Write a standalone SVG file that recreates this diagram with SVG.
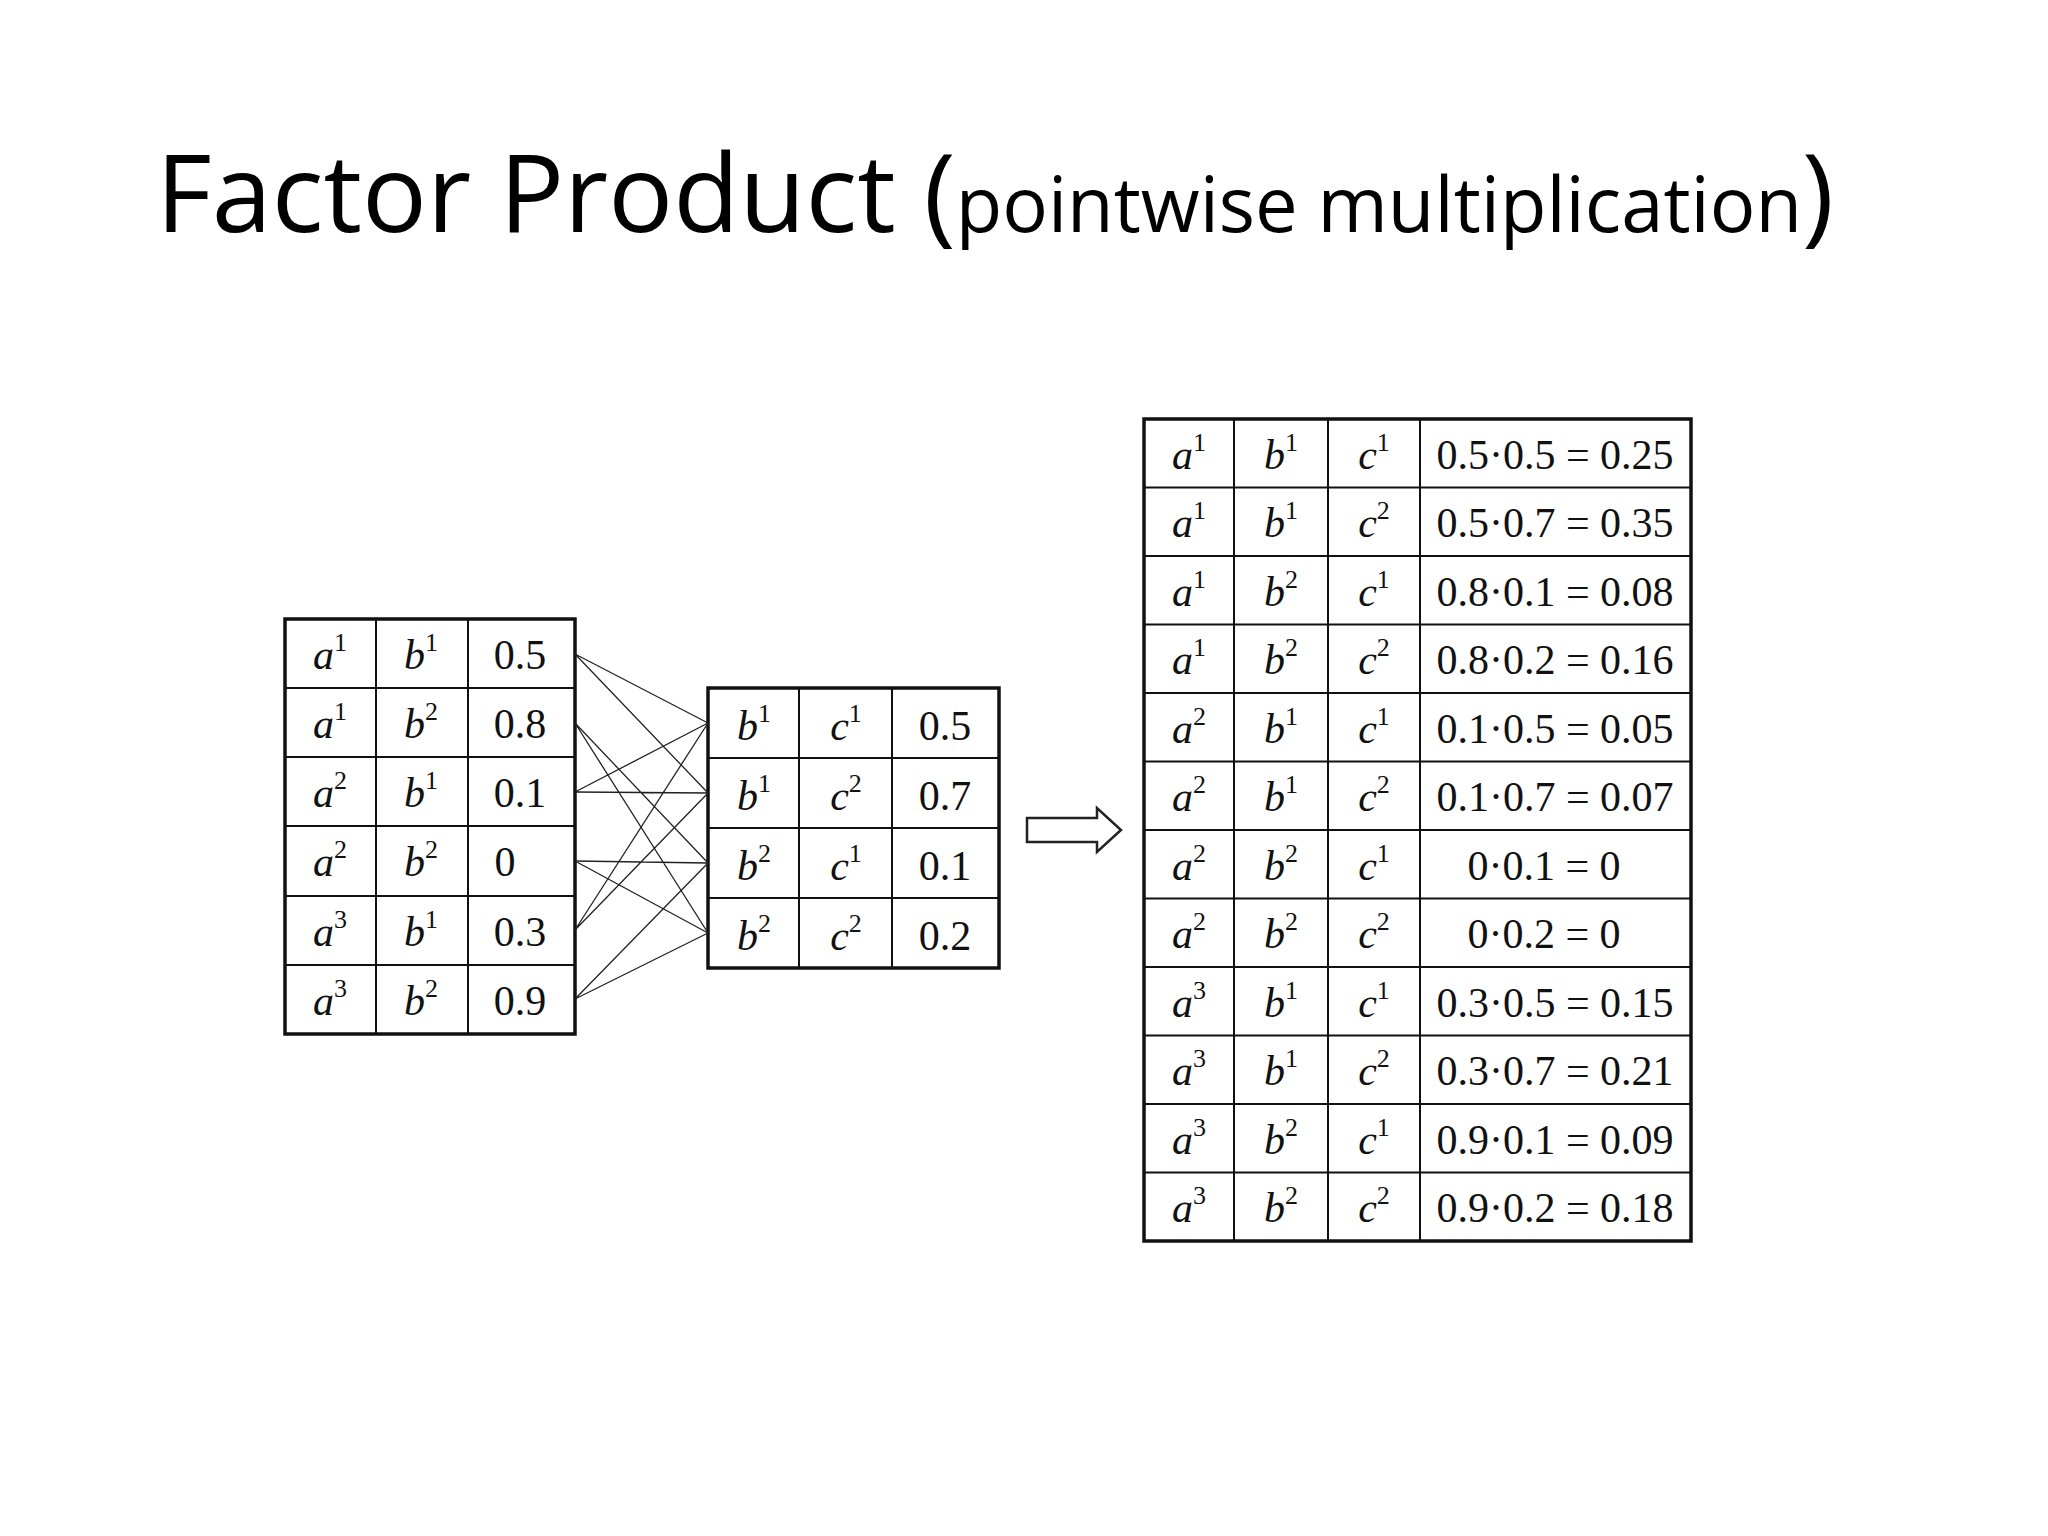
<svg xmlns="http://www.w3.org/2000/svg" width="2048" height="1536" viewBox="0 0 2048 1536">
<style>
.t{font-family:"Liberation Serif",serif;font-size:42px;fill:#111}
.v{font-style:italic}
.s{font-size:26px;font-style:normal}
.g{fill:none;stroke:#111;stroke-width:2}
.b{fill:none;stroke:#111;stroke-width:3.5}
.c{stroke:#222;stroke-width:1.3}
</style>
<rect width="2048" height="1536" fill="#fff"/>
<text x="156" y="232" font-family="Open Sans,'Noto Sans',sans-serif" font-size="108" fill="#000">Factor Product (<tspan font-size="76">pointwise multiplication</tspan>)</text>

<g id="tableA">
<rect class="b" x="285" y="619" width="290" height="415"/>
<path class="g" d="M376 619V1034M468 619V1034M285 688H575M285 757H575M285 826H575M285 896H575M285 965H575"/>
<g class="t" text-anchor="middle">
<text x="330" y="669" class="t v">a<tspan class="s" dy="-18">1</tspan></text>
<text x="421" y="669" class="t v">b<tspan class="s" dy="-18">1</tspan></text>
<text x="520" y="669">0.5</text>
<text x="330" y="738" class="t v">a<tspan class="s" dy="-18">1</tspan></text>
<text x="421" y="738" class="t v">b<tspan class="s" dy="-18">2</tspan></text>
<text x="520" y="738">0.8</text>
<text x="330" y="807" class="t v">a<tspan class="s" dy="-18">2</tspan></text>
<text x="421" y="807" class="t v">b<tspan class="s" dy="-18">1</tspan></text>
<text x="520" y="807">0.1</text>
<text x="330" y="876" class="t v">a<tspan class="s" dy="-18">2</tspan></text>
<text x="421" y="876" class="t v">b<tspan class="s" dy="-18">2</tspan></text>
<text x="505" y="876">0</text>
<text x="330" y="946" class="t v">a<tspan class="s" dy="-18">3</tspan></text>
<text x="421" y="946" class="t v">b<tspan class="s" dy="-18">1</tspan></text>
<text x="520" y="946">0.3</text>
<text x="330" y="1015" class="t v">a<tspan class="s" dy="-18">3</tspan></text>
<text x="421" y="1015" class="t v">b<tspan class="s" dy="-18">2</tspan></text>
<text x="520" y="1015">0.9</text>
</g>
</g>

<g id="tableB">
<rect class="b" x="708" y="688" width="291" height="280"/>
<path class="g" d="M799 688V968M892 688V968M708 758H999M708 828H999M708 898H999"/>
<g class="t" text-anchor="middle">
<text x="754" y="740" class="t v">b<tspan class="s" dy="-18">1</tspan></text>
<text x="846" y="740" class="t v">c<tspan class="s" dy="-18">1</tspan></text>
<text x="945" y="740">0.5</text>
<text x="754" y="810" class="t v">b<tspan class="s" dy="-18">1</tspan></text>
<text x="846" y="810" class="t v">c<tspan class="s" dy="-18">2</tspan></text>
<text x="945" y="810">0.7</text>
<text x="754" y="880" class="t v">b<tspan class="s" dy="-18">2</tspan></text>
<text x="846" y="880" class="t v">c<tspan class="s" dy="-18">1</tspan></text>
<text x="945" y="880">0.1</text>
<text x="754" y="950" class="t v">b<tspan class="s" dy="-18">2</tspan></text>
<text x="846" y="950" class="t v">c<tspan class="s" dy="-18">2</tspan></text>
<text x="945" y="950">0.2</text>
</g>
</g>

<g id="connectors">
<path class="c" d="M575 654L708 723M575 654L708 793M575 792L708 723M575 792L708 793M575 930L708 723M575 930L708 793M575 723L708 863M575 723L708 933M575 861L708 863M575 861L708 933M575 999L708 863M575 999L708 933"/>
<path fill="none" stroke="#222" stroke-width="2.5" d="M1027 818H1097V808L1121 830L1097 852V842H1027Z"/>
</g>

<g id="tableC">
<rect class="b" x="1144" y="419" width="547" height="822"/>
<path class="g" d="M1234 419V1241M1328 419V1241M1420 419V1241M1144 487.5H1691M1144 556H1691M1144 624.5H1691M1144 693H1691M1144 761.5H1691M1144 830H1691M1144 898.5H1691M1144 967H1691M1144 1035.5H1691M1144 1104H1691M1144 1172.5H1691"/>
<g class="t" text-anchor="middle">
<text x="1189" y="469" class="t v">a<tspan class="s" dy="-18">1</tspan></text><text x="1281" y="469" class="t v">b<tspan class="s" dy="-18">1</tspan></text><text x="1374" y="469" class="t v">c<tspan class="s" dy="-18">1</tspan></text><text x="1555" y="469">0.5·0.5 = 0.25</text>
<text x="1189" y="537" class="t v">a<tspan class="s" dy="-18">1</tspan></text><text x="1281" y="537" class="t v">b<tspan class="s" dy="-18">1</tspan></text><text x="1374" y="537" class="t v">c<tspan class="s" dy="-18">2</tspan></text><text x="1555" y="537">0.5·0.7 = 0.35</text>
<text x="1189" y="606" class="t v">a<tspan class="s" dy="-18">1</tspan></text><text x="1281" y="606" class="t v">b<tspan class="s" dy="-18">2</tspan></text><text x="1374" y="606" class="t v">c<tspan class="s" dy="-18">1</tspan></text><text x="1555" y="606">0.8·0.1 = 0.08</text>
<text x="1189" y="674" class="t v">a<tspan class="s" dy="-18">1</tspan></text><text x="1281" y="674" class="t v">b<tspan class="s" dy="-18">2</tspan></text><text x="1374" y="674" class="t v">c<tspan class="s" dy="-18">2</tspan></text><text x="1555" y="674">0.8·0.2 = 0.16</text>
<text x="1189" y="743" class="t v">a<tspan class="s" dy="-18">2</tspan></text><text x="1281" y="743" class="t v">b<tspan class="s" dy="-18">1</tspan></text><text x="1374" y="743" class="t v">c<tspan class="s" dy="-18">1</tspan></text><text x="1555" y="743">0.1·0.5 = 0.05</text>
<text x="1189" y="811" class="t v">a<tspan class="s" dy="-18">2</tspan></text><text x="1281" y="811" class="t v">b<tspan class="s" dy="-18">1</tspan></text><text x="1374" y="811" class="t v">c<tspan class="s" dy="-18">2</tspan></text><text x="1555" y="811">0.1·0.7 = 0.07</text>
<text x="1189" y="880" class="t v">a<tspan class="s" dy="-18">2</tspan></text><text x="1281" y="880" class="t v">b<tspan class="s" dy="-18">2</tspan></text><text x="1374" y="880" class="t v">c<tspan class="s" dy="-18">1</tspan></text><text x="1544" y="880">0·0.1 = 0</text>
<text x="1189" y="948" class="t v">a<tspan class="s" dy="-18">2</tspan></text><text x="1281" y="948" class="t v">b<tspan class="s" dy="-18">2</tspan></text><text x="1374" y="948" class="t v">c<tspan class="s" dy="-18">2</tspan></text><text x="1544" y="948">0·0.2 = 0</text>
<text x="1189" y="1017" class="t v">a<tspan class="s" dy="-18">3</tspan></text><text x="1281" y="1017" class="t v">b<tspan class="s" dy="-18">1</tspan></text><text x="1374" y="1017" class="t v">c<tspan class="s" dy="-18">1</tspan></text><text x="1555" y="1017">0.3·0.5 = 0.15</text>
<text x="1189" y="1085" class="t v">a<tspan class="s" dy="-18">3</tspan></text><text x="1281" y="1085" class="t v">b<tspan class="s" dy="-18">1</tspan></text><text x="1374" y="1085" class="t v">c<tspan class="s" dy="-18">2</tspan></text><text x="1555" y="1085">0.3·0.7 = 0.21</text>
<text x="1189" y="1154" class="t v">a<tspan class="s" dy="-18">3</tspan></text><text x="1281" y="1154" class="t v">b<tspan class="s" dy="-18">2</tspan></text><text x="1374" y="1154" class="t v">c<tspan class="s" dy="-18">1</tspan></text><text x="1555" y="1154">0.9·0.1 = 0.09</text>
<text x="1189" y="1222" class="t v">a<tspan class="s" dy="-18">3</tspan></text><text x="1281" y="1222" class="t v">b<tspan class="s" dy="-18">2</tspan></text><text x="1374" y="1222" class="t v">c<tspan class="s" dy="-18">2</tspan></text><text x="1555" y="1222">0.9·0.2 = 0.18</text>
</g>
</g>
</svg>
